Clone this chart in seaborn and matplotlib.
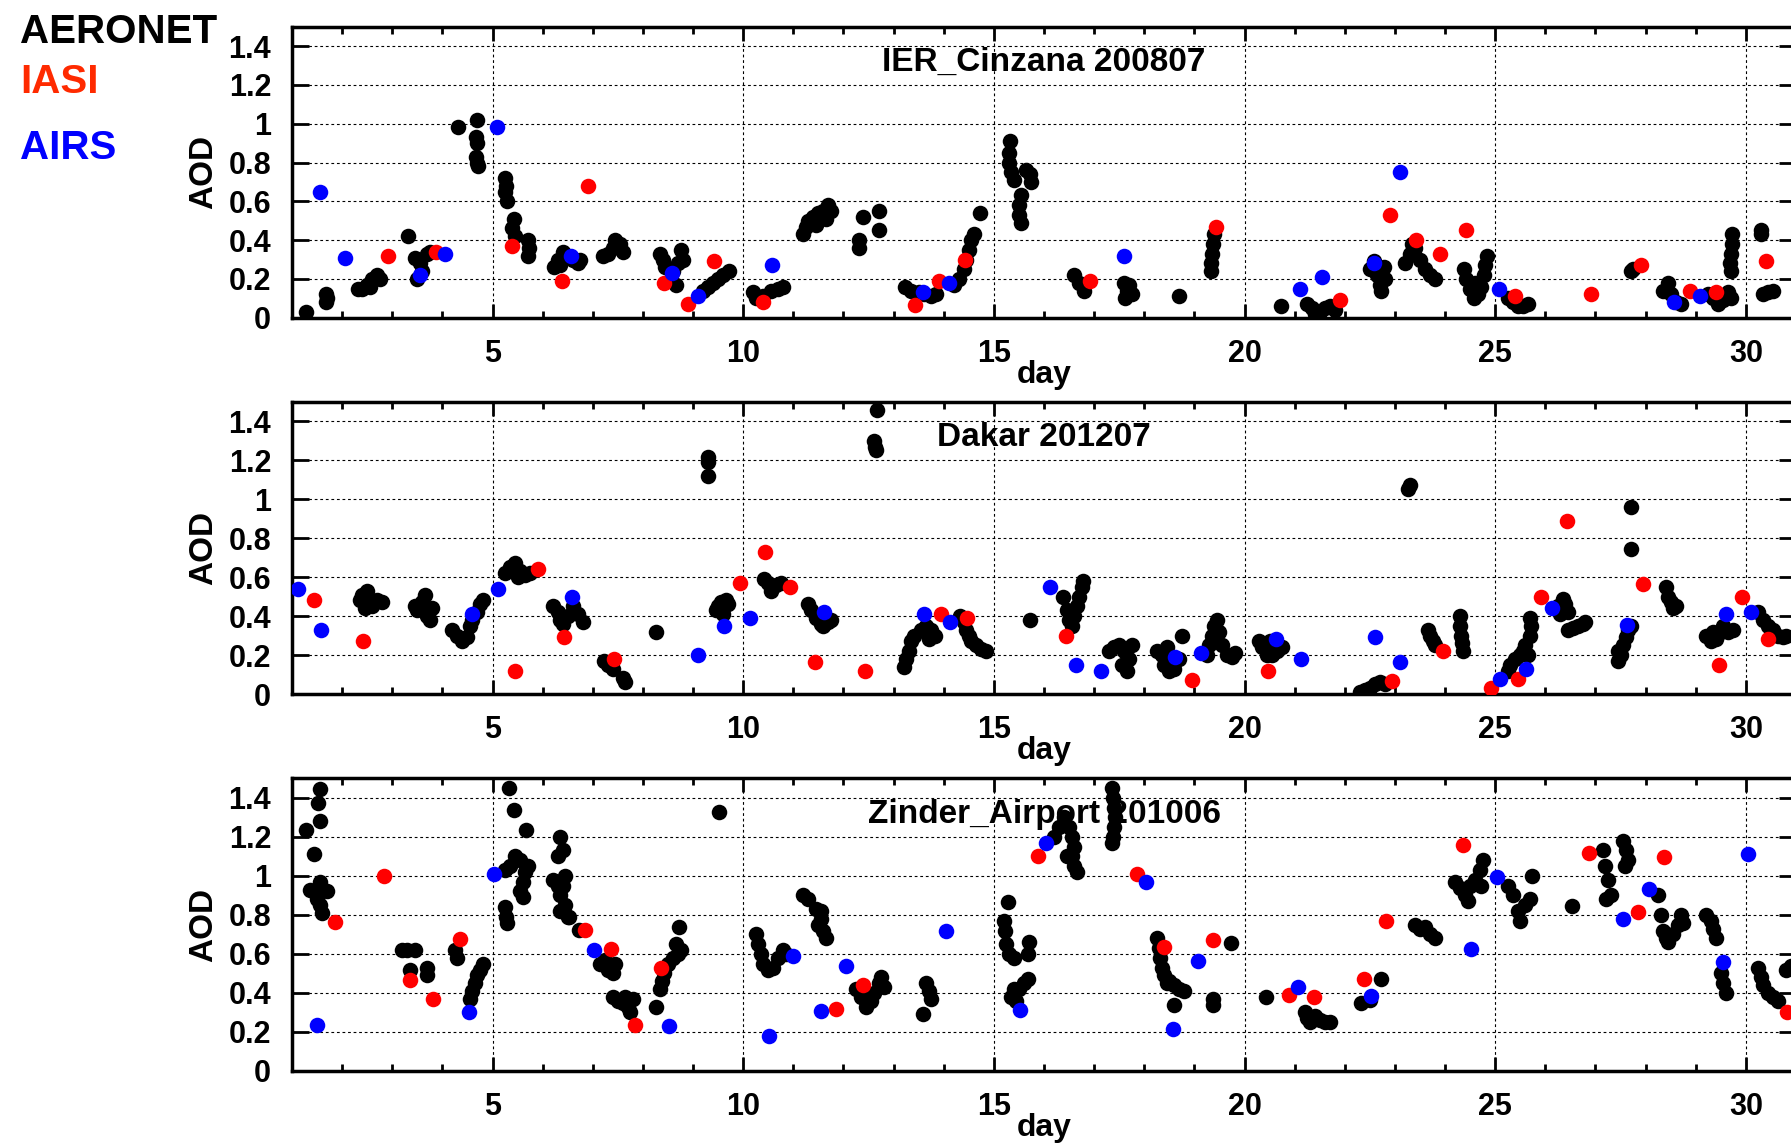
import numpy as np
import pandas as pd
import matplotlib
matplotlib.use("Agg")
import matplotlib.pyplot as plt
from matplotlib.ticker import MultipleLocator, FuncFormatter
import seaborn as sns

# ---------------- data: IER_Cinzana 200807 ----------------
cin_aer_day = [1.27, 1.68, 1.69, 1.68, 2.32, 2.4, 2.5, 2.55, 2.6, 2.7, 2.75, 3.31, 3.45, 3.5, 3.55, 3.6, 3.7, 3.75,
               4.32, 4.7, 4.68, 4.7, 4.68, 4.7, 4.72, 5.25, 5.27, 5.25, 5.28, 5.42, 5.38, 5.45, 5.7, 5.72, 5.7,
               6.22, 6.3, 6.35, 6.4, 6.5, 6.6, 6.7, 6.75, 7.2, 7.3, 7.4, 7.45, 7.55, 7.6,
               8.35, 8.4, 8.45, 8.55, 8.6, 8.65, 8.7, 8.75, 8.8, 9.2, 9.3, 9.4, 9.5, 9.6, 9.72,
               10.2, 10.25, 10.4, 10.55, 10.7, 10.8,
               11.2, 11.25, 11.3, 11.4, 11.45, 11.5, 11.6, 11.65, 11.7, 11.75, 12.39, 12.31, 12.3, 12.71, 12.71,
               13.22, 13.35, 13.5, 13.6, 13.75, 13.85, 14.2, 14.3, 14.4, 14.45, 14.5, 14.55, 14.6, 14.72,
               15.33, 15.3, 15.3, 15.35, 15.4, 15.65, 15.72, 15.75, 15.55, 15.5, 15.5, 15.55,
               16.6, 16.7, 16.8, 17.6, 17.65, 17.62, 17.75, 17.7, 18.69, 19.4, 19.38, 19.36, 19.34, 19.33, 20.73,
               21.25, 21.35, 21.4, 21.5, 21.6, 21.7, 21.8, 22.5, 22.58, 22.65, 22.7, 22.72, 22.8, 22.78,
               23.2, 23.3, 23.35, 23.4, 23.5, 23.6, 23.7, 23.8,
               24.37, 24.42, 24.5, 24.58, 24.6, 24.65, 24.72, 24.77, 24.8, 24.83,
               25.25, 25.35, 25.45, 25.55, 25.65, 27.7, 27.75,
               28.35, 28.45, 28.5, 28.6, 28.7, 29.25, 29.35, 29.45, 29.55, 29.65, 29.7,
               29.72, 29.72, 29.7, 29.68, 29.7, 30.3, 30.3, 30.35, 30.45, 30.55]
cin_aer_aod = [0.03, 0.08, 0.10, 0.12, 0.15, 0.15, 0.17, 0.16, 0.20, 0.22, 0.20, 0.42, 0.31, 0.20, 0.28, 0.24, 0.33, 0.34,
               0.985, 1.02, 0.93, 0.90, 0.83, 0.80, 0.78, 0.72, 0.68, 0.65, 0.60, 0.51, 0.46, 0.42, 0.40, 0.36, 0.32,
               0.26, 0.30, 0.27, 0.34, 0.32, 0.30, 0.28, 0.30, 0.32, 0.33, 0.36, 0.40, 0.38, 0.34,
               0.33, 0.30, 0.26, 0.20, 0.24, 0.17, 0.28, 0.35, 0.30, 0.14, 0.16, 0.18, 0.20, 0.22, 0.24,
               0.13, 0.10, 0.11, 0.14, 0.15, 0.16,
               0.43, 0.47, 0.50, 0.52, 0.48, 0.54, 0.55, 0.51, 0.58, 0.55, 0.52, 0.40, 0.36, 0.55, 0.45,
               0.16, 0.14, 0.13, 0.12, 0.11, 0.12, 0.17, 0.20, 0.25, 0.30, 0.35, 0.40, 0.43, 0.54,
               0.91, 0.85, 0.80, 0.75, 0.71, 0.76, 0.74, 0.70, 0.63, 0.58, 0.53, 0.49,
               0.22, 0.18, 0.14, 0.18, 0.14, 0.10, 0.12, 0.17, 0.11, 0.43, 0.38, 0.33, 0.28, 0.24, 0.06,
               0.07, 0.05, 0.02, 0.03, 0.05, 0.06, 0.04, 0.25, 0.29, 0.22, 0.17, 0.14, 0.20, 0.26,
               0.28, 0.33, 0.38, 0.36, 0.30, 0.25, 0.22, 0.20,
               0.25, 0.20, 0.15, 0.10, 0.18, 0.12, 0.16, 0.22, 0.27, 0.32,
               0.10, 0.08, 0.06, 0.06, 0.07, 0.24, 0.25,
               0.14, 0.18, 0.12, 0.08, 0.07, 0.12, 0.10, 0.07, 0.09, 0.13, 0.10,
               0.43, 0.38, 0.33, 0.28, 0.24, 0.45, 0.43, 0.12, 0.13, 0.14]
cin_iasi_day = [2.91, 3.87, 5.39, 6.39, 6.91, 8.42, 8.89, 9.42, 10.4, 13.43, 13.9, 14.42, 16.92, 19.43,
                21.91, 22.9, 23.42, 23.89, 24.41, 25.4, 26.92, 27.9, 28.88, 29.41, 30.4]
cin_iasi_aod = [0.32, 0.34, 0.37, 0.19, 0.68, 0.18, 0.07, 0.29, 0.08, 0.065, 0.19, 0.30, 0.19, 0.47,
                0.09, 0.53, 0.40, 0.33, 0.45, 0.11, 0.12, 0.27, 0.14, 0.13, 0.29]
cin_airs_day = [1.55, 2.05, 3.55, 4.05, 5.09, 6.57, 8.57, 9.09, 10.57, 13.59, 14.11, 17.59, 21.1,
                21.55, 22.59, 23.1, 25.08, 28.57, 29.08]
cin_airs_aod = [0.65, 0.31, 0.22, 0.33, 0.985, 0.32, 0.23, 0.11, 0.27, 0.13, 0.18, 0.32, 0.15,
                0.21, 0.28, 0.75, 0.15, 0.08, 0.11]

# ---------------- data: Dakar 201207 ----------------
dak_aer_day = [2.35, 2.4, 2.45, 2.5, 2.55, 2.6, 2.7, 2.8, 3.45, 3.5, 3.6, 3.65, 3.7, 3.75, 3.8,
               4.2, 4.3, 4.4, 4.5, 4.55, 4.6, 4.7, 4.75, 4.8, 5.25, 5.35, 5.45, 5.5, 5.55, 5.65, 5.75,
               6.2, 6.3, 6.35, 6.4, 6.5, 6.6, 6.7, 6.8, 7.22, 7.3, 7.4, 7.6, 7.65, 8.27,
               9.29, 9.29, 9.29, 9.45, 9.5, 9.55, 9.6, 9.65, 9.7, 10.42, 10.5, 10.55, 10.65, 10.75,
               11.3, 11.35, 11.45, 11.55, 11.6, 11.7, 11.75, 12.67, 12.6, 12.63, 12.65,
               13.2, 13.25, 13.3, 13.35, 13.4, 13.55, 13.65, 13.7, 13.75, 13.82,
               14.33, 14.4, 14.45, 14.5, 14.55, 14.65, 14.75, 14.85, 15.72, 16.37,
               16.45, 16.5, 16.55, 16.6, 16.65, 16.7, 16.75, 16.78,
               17.3, 17.4, 17.5, 17.55, 17.6, 17.65, 17.7, 17.75,
               18.25, 18.35, 18.4, 18.45, 18.5, 18.6, 18.7, 18.75,
               19.25, 19.3, 19.35, 19.4, 19.45, 19.5, 19.55, 19.65, 19.75, 19.8,
               20.28, 20.35, 20.45, 20.5, 20.55, 20.65, 20.75,
               22.3, 22.4, 22.5, 22.6, 22.7, 22.8, 23.3, 23.27, 23.65, 23.7, 23.75, 23.8,
               24.3, 24.3, 24.32, 24.33, 24.35,
               25.25, 25.3, 25.4, 25.5, 25.55, 25.6, 25.65, 25.7, 25.72, 25.7,
               26.25, 26.3, 26.35, 26.4, 26.45, 26.45, 26.55, 26.65, 26.75, 26.8,
               27.71, 27.71, 27.45, 27.45, 27.5, 27.55, 27.6, 27.65, 27.7,
               28.4, 28.45, 28.5, 28.55, 28.6,
               29.2, 29.3, 29.35, 29.4, 29.45, 29.55, 29.65, 29.75,
               30.25, 30.35, 30.45, 30.55, 30.65, 30.75, 30.8]
dak_aer_aod = [0.48, 0.51, 0.44, 0.53, 0.48, 0.45, 0.48, 0.47, 0.45, 0.43, 0.47, 0.51, 0.40, 0.38, 0.44,
               0.33, 0.30, 0.27, 0.29, 0.35, 0.38, 0.42, 0.46, 0.48, 0.62, 0.65, 0.67, 0.60, 0.63, 0.61, 0.62,
               0.45, 0.42, 0.38, 0.36, 0.40, 0.45, 0.41, 0.37, 0.17, 0.15, 0.13, 0.08, 0.06, 0.32,
               1.215, 1.19, 1.117, 0.43, 0.45, 0.47, 0.41, 0.48, 0.46, 0.59, 0.57, 0.53, 0.56, 0.57,
               0.46, 0.43, 0.39, 0.36, 0.35, 0.37, 0.38, 1.455, 1.30, 1.27, 1.25,
               0.14, 0.18, 0.22, 0.27, 0.30, 0.33, 0.35, 0.28, 0.33, 0.30,
               0.40, 0.37, 0.33, 0.30, 0.27, 0.25, 0.23, 0.22, 0.38, 0.50,
               0.43, 0.38, 0.35, 0.40, 0.45, 0.50, 0.55, 0.58,
               0.22, 0.24, 0.25, 0.15, 0.22, 0.12, 0.18, 0.25,
               0.22, 0.20, 0.15, 0.24, 0.12, 0.13, 0.18, 0.30,
               0.20, 0.25, 0.30, 0.35, 0.38, 0.32, 0.25, 0.20, 0.19, 0.21,
               0.27, 0.24, 0.20, 0.27, 0.20, 0.22, 0.24,
               0.01, 0.02, 0.03, 0.05, 0.06, 0.05, 1.075, 1.05, 0.33, 0.30, 0.27, 0.25,
               0.40, 0.35, 0.30, 0.26, 0.22,
               0.12, 0.15, 0.18, 0.20, 0.22, 0.25, 0.20, 0.30, 0.35, 0.39,
               0.45, 0.41, 0.49, 0.46, 0.42, 0.33, 0.34, 0.35, 0.36, 0.37,
               0.96, 0.745, 0.17, 0.22, 0.20, 0.25, 0.29, 0.33, 0.35,
               0.55, 0.50, 0.47, 0.44, 0.45,
               0.30, 0.27, 0.32, 0.28, 0.31, 0.35, 0.32, 0.33,
               0.42, 0.38, 0.35, 0.33, 0.30, 0.29, 0.30]
dak_iasi_day = [1.43, 2.42, 5.45, 5.91, 6.43, 7.42, 9.93, 10.44, 10.93, 11.44, 12.43, 13.94, 14.47,
                16.44, 18.95, 20.47, 22.95, 23.95, 24.92, 25.45, 25.91, 26.43, 27.95, 29.47, 29.93, 30.45]
dak_iasi_aod = [0.48, 0.27, 0.12, 0.64, 0.29, 0.18, 0.57, 0.73, 0.55, 0.166, 0.12, 0.41, 0.39,
                0.30, 0.07, 0.12, 0.067, 0.22, 0.03, 0.077, 0.50, 0.886, 0.566, 0.15, 0.50, 0.28]
dak_airs_day = [1.12, 1.57, 4.59, 5.11, 6.59, 9.09, 9.62, 10.13, 11.61, 13.61, 14.12, 16.11, 16.63,
                17.13, 18.62, 19.13, 20.62, 21.12, 22.6, 23.1, 25.09, 25.61, 26.13, 27.62, 29.6, 30.11]
dak_airs_aod = [0.54, 0.33, 0.41, 0.54, 0.50, 0.20, 0.35, 0.39, 0.42, 0.41, 0.37, 0.55, 0.15,
                0.12, 0.19, 0.21, 0.28, 0.18, 0.29, 0.166, 0.075, 0.13, 0.44, 0.355, 0.41, 0.42]

# ---------------- data: Zinder_Airport 201006 ----------------
zin_aer_day = [1.55, 1.51, 1.55, 1.27, 1.43, 1.35, 1.45, 1.55, 1.6, 1.7, 1.5, 1.55, 1.6,
               3.2, 3.3, 3.45, 3.35, 3.69, 3.7, 4.25, 4.3, 4.55, 4.6, 4.65, 4.7, 4.75, 4.8,
               5.33, 5.42, 5.67, 5.25, 5.35, 5.45, 5.55, 5.65, 5.6, 5.55, 5.6, 5.7, 5.25, 5.27, 5.28,
               6.35, 6.4, 6.3, 6.2, 6.3, 6.35, 6.4, 6.45, 6.35, 6.45, 6.5, 6.52, 6.72,
               7.15, 7.25, 7.3, 7.4, 7.45, 7.4, 7.5, 7.6, 7.7, 7.75, 7.65, 7.8, 8.27,
               8.35, 8.38, 8.42, 8.5, 8.6, 8.7, 8.65, 8.75, 8.72, 9.52,
               10.25, 10.3, 10.35, 10.4, 10.5, 10.6, 10.7, 10.8, 10.85,
               11.2, 11.3, 11.45, 11.55, 11.5, 11.6, 11.65, 11.55,
               12.25, 12.35, 12.45, 12.55, 12.6, 12.7, 12.75, 12.8, 13.65, 13.7, 13.75, 13.59,
               15.29, 15.2, 15.22, 15.25, 15.3, 15.4, 15.7, 15.68,
               15.35, 15.4, 15.5, 15.6, 15.68, 15.45,
               16.2, 16.3, 16.4, 16.5, 16.55, 16.6, 16.55, 16.6, 16.65, 16.45,
               17.35, 17.38, 17.4, 17.42, 17.4, 17.38, 17.35,
               18.25, 18.3, 18.32, 18.35, 18.4, 18.5, 18.6, 18.7, 18.8, 18.45, 18.59,
               19.37, 19.37, 19.73, 20.42,
               21.2, 21.25, 21.3, 21.4, 21.5, 21.6, 21.7, 22.33, 22.5, 22.73,
               23.4, 23.5, 23.6, 23.7, 23.8,
               24.2, 24.3, 24.4, 24.45, 24.5, 24.6, 24.7, 24.75, 24.72,
               25.25, 25.35, 25.45, 25.5, 25.6, 25.7, 25.73, 26.53,
               27.15, 27.2, 27.25, 27.3, 27.22, 27.55, 27.6, 27.65, 27.58,
               28.25, 28.3, 28.35, 28.4, 28.45, 28.55, 28.65, 28.7, 28.75,
               29.2, 29.3, 29.35, 29.4, 29.5, 29.55, 29.6,
               30.25, 30.3, 30.35, 30.45, 30.55, 30.65, 30.8, 30.9]
zin_aer_aod = [1.447, 1.375, 1.28, 1.233, 1.11, 0.93, 0.92, 0.97, 0.93, 0.92, 0.88, 0.85, 0.81,
               0.62, 0.62, 0.62, 0.52, 0.53, 0.49, 0.62, 0.58, 0.37, 0.41, 0.45, 0.49, 0.52, 0.55,
               1.45, 1.34, 1.235, 1.03, 1.05, 1.10, 1.08, 1.02, 0.97, 0.92, 0.89, 1.05, 0.84, 0.79, 0.76,
               1.20, 1.13, 1.10, 0.98, 0.95, 0.90, 0.95, 0.85, 0.82, 1.00, 0.79, 0.79, 0.725,
               0.55, 0.57, 0.52, 0.50, 0.55, 0.38, 0.36, 0.35, 0.33, 0.30, 0.38, 0.37, 0.33,
               0.42, 0.46, 0.50, 0.55, 0.58, 0.60, 0.65, 0.62, 0.74, 1.327,
               0.70, 0.65, 0.60, 0.55, 0.52, 0.53, 0.58, 0.62, 0.60,
               0.90, 0.88, 0.83, 0.82, 0.75, 0.72, 0.68, 0.78,
               0.42, 0.38, 0.33, 0.36, 0.40, 0.45, 0.48, 0.43, 0.45, 0.41, 0.37, 0.29,
               0.867, 0.77, 0.72, 0.65, 0.60, 0.58, 0.66, 0.60,
               0.38, 0.42, 0.42, 0.45, 0.47, 0.36,
               1.20, 1.25, 1.30, 1.25, 1.20, 1.15, 1.10, 1.05, 1.02, 1.10,
               1.45, 1.40, 1.35, 1.30, 1.25, 1.20, 1.17,
               0.68, 0.63, 0.58, 0.53, 0.49, 0.46, 0.44, 0.42, 0.41, 0.45, 0.34,
               0.34, 0.37, 0.656, 0.38,
               0.30, 0.27, 0.25, 0.28, 0.26, 0.25, 0.25, 0.35, 0.365, 0.47,
               0.75, 0.73, 0.74, 0.70, 0.68,
               0.97, 0.94, 0.90, 0.87, 0.95, 0.98, 1.03, 1.08, 0.95,
               0.95, 0.90, 0.82, 0.77, 0.85, 0.88, 1.00, 0.844,
               1.13, 1.05, 0.98, 0.90, 0.88, 1.18, 1.13, 1.08, 1.05,
               0.90, 0.80, 0.72, 0.68, 0.66, 0.70, 0.75, 0.80, 0.76,
               0.80, 0.77, 0.73, 0.68, 0.50, 0.45, 0.40,
               0.53, 0.48, 0.44, 0.40, 0.38, 0.36, 0.52, 0.54]
zin_iasi_day = [1.85, 2.83, 3.35, 3.82, 4.35, 6.85, 7.37, 7.84, 8.37, 11.85, 12.39, 15.89, 17.85,
                18.39, 19.37, 20.89, 21.39, 22.38, 22.83, 24.35, 26.87, 27.85, 28.37, 30.83]
zin_iasi_aod = [0.762, 1.00, 0.464, 0.37, 0.676, 0.724, 0.627, 0.236, 0.53, 0.317, 0.44, 1.10, 1.01,
                0.634, 0.673, 0.39, 0.38, 0.47, 0.77, 1.16, 1.115, 0.815, 1.096, 0.30]
zin_airs_day = [1.5, 4.53, 5.03, 7.03, 8.52, 10.51, 11.0, 11.55, 12.05, 14.05, 15.53, 16.04, 18.04,
                18.57, 19.07, 21.07, 22.53, 24.52, 25.03, 27.55, 28.07, 29.55, 30.05]
zin_airs_aod = [0.236, 0.30, 1.01, 0.62, 0.23, 0.18, 0.587, 0.31, 0.536, 0.716, 0.313, 1.17, 0.967,
                0.214, 0.565, 0.433, 0.385, 0.627, 0.993, 0.78, 0.935, 0.558, 1.11]

site_titles = ["IER_Cinzana 200807", "Dakar 201207", "Zinder_Airport 201006"]
x_ticks = [5, 10, 15, 20, 25, 30]
y_ticks = [0, 0.2, 0.4, 0.6, 0.8, 1.0, 1.2, 1.4]
legend_labels = ["AERONET", "IASI", "AIRS"]

sites = [
    (cin_aer_day, cin_aer_aod, cin_iasi_day, cin_iasi_aod, cin_airs_day, cin_airs_aod),
    (dak_aer_day, dak_aer_aod, dak_iasi_day, dak_iasi_aod, dak_airs_day, dak_airs_aod),
    (zin_aer_day, zin_aer_aod, zin_iasi_day, zin_iasi_aod, zin_airs_day, zin_airs_aod),
]

# ---------------- styling ----------------
sns.set_style("white")
plt.rcParams['font.family'] = ['Liberation Sans', 'DejaVu Sans']
plt.rcParams['font.weight'] = 'bold'
plt.rcParams['text.color'] = 'black'
plt.rcParams['axes.labelcolor'] = 'black'
plt.rcParams['xtick.color'] = 'black'
plt.rcParams['ytick.color'] = 'black'

W, H = 1791, 1144
fig = plt.figure(figsize=(W / 100, H / 100), dpi=100)

left = 292 / W
width = (1796 - 292) / W
panel_px = [(26.7, 317.7), (401.7, 694.0), (778.3, 1071.0)]

colors = ["black", "#ff0000", "#0000ff"]
text_colors = ["black", "#ff2a00", "#0000ff"]
msize = 125

for i, (site, title) in enumerate(zip(sites, site_titles)):
    top_px, bot_px = panel_px[i]
    ax = fig.add_axes([left, 1 - bot_px / H, width, (bot_px - top_px) / H])
    ad, aa, idy, ia, sd, sa = site
    df_aer = pd.DataFrame({"day": ad, "AOD": aa})
    df_iasi = pd.DataFrame({"day": idy, "AOD": ia})
    df_airs = pd.DataFrame({"day": sd, "AOD": sa})
    sns.scatterplot(data=df_aer, x="day", y="AOD", ax=ax, color=colors[0], s=msize,
                    linewidth=0, zorder=3)
    sns.scatterplot(data=df_iasi, x="day", y="AOD", ax=ax, color=colors[1], s=msize,
                    linewidth=0, zorder=4)
    sns.scatterplot(data=df_airs, x="day", y="AOD", ax=ax, color=colors[2], s=msize,
                    linewidth=0, zorder=5)

    ax.set_xlim(1, 31)
    ax.set_ylim(0, 1.5)
    ax.set_xticks(x_ticks)
    ax.set_yticks(y_ticks)
    ax.xaxis.set_minor_locator(MultipleLocator(1))
    ax.yaxis.set_major_formatter(FuncFormatter(lambda v, p: "%g" % v))
    ax.tick_params(axis="both", which="both", direction="in", top=True, right=True,
                   bottom=True, left=True, width=2.0, labelsize=22, colors="black")
    ax.tick_params(axis="x", which="major", length=10, pad=15)
    ax.tick_params(axis="x", which="minor", length=5)
    ax.tick_params(axis="y", which="major", length=12, pad=15)
    for lab in ax.get_xticklabels() + ax.get_yticklabels():
        lab.set_fontweight("bold")
    for sp in ax.spines.values():
        sp.set_linewidth(2.5)
        sp.set_color("black")
    ax.grid(True, which="major", color="black", linestyle=(0, (2.5, 2.5)), linewidth=0.8)
    ax.set_axisbelow(True)

    ax.set_xlabel("day", fontsize=23, fontweight="bold")
    ax.xaxis.set_label_coords(0.5, -0.2234)
    ax.xaxis.label.set_verticalalignment("baseline")
    ax.set_ylabel("AOD", fontsize=24, fontweight="bold")
    ax.yaxis.set_label_coords(-0.0585, 0.5)
    ax.yaxis.label.set_verticalalignment("center")

    ax.text(0.5, 0.848, title, transform=ax.transAxes, ha="center", va="baseline",
            fontsize=24, fontweight="bold", zorder=6)

legend_base = [42.7, 93.3, 159.3]
for lab, col, yy in zip(legend_labels, text_colors, legend_base):
    fig.text(20 / W, 1 - yy / H, lab, color=col, fontsize=29, fontweight="bold",
             ha="left", va="baseline")

fig.savefig("out.png", dpi=100)
